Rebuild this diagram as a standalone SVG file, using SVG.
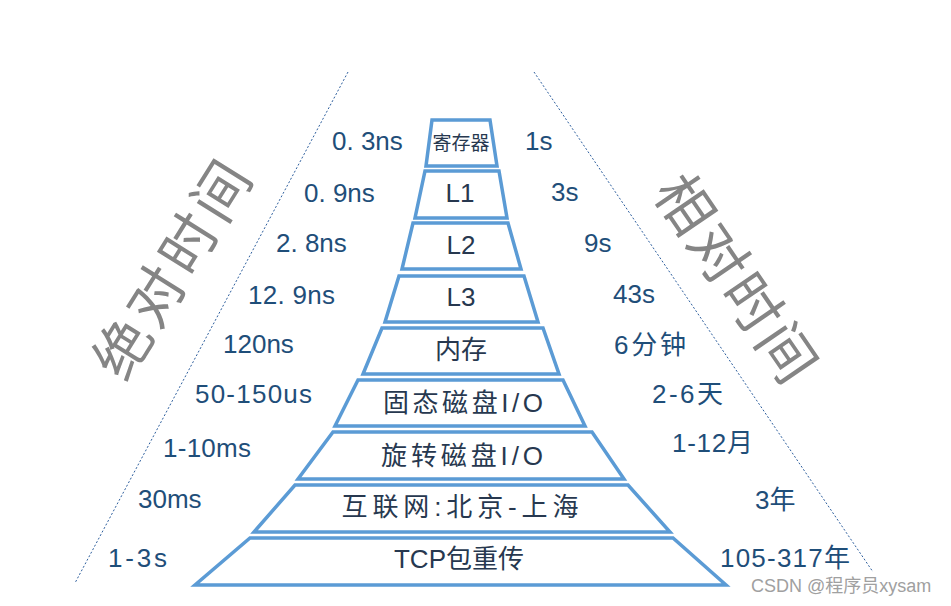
<svg xmlns="http://www.w3.org/2000/svg" width="951" height="606" viewBox="0 0 951 606">
<style>
.tier{fill:#ffffff;stroke:#5b9bd5;stroke-width:3.5;stroke-linejoin:miter}
.guide{stroke:#2e5f9e;stroke-width:1;stroke-dasharray:2 2;fill:none}
.val{font-family:"Liberation Sans","Noto Sans CJK SC",sans-serif;font-size:26px;fill:#1f4e79}
.lab{font-family:"Liberation Sans","Noto Sans CJK SC",sans-serif;font-size:26px;fill:#27384f;text-anchor:middle}
.big{font-family:"Noto Sans CJK SC",sans-serif;font-size:57px;font-weight:400;fill:#858585;text-anchor:middle}
.wm{font-family:"Liberation Sans","Noto Sans CJK SC",sans-serif;font-size:18px;fill:#a0a0a0}
</style>
<rect width="951" height="606" fill="#ffffff"/>
<g id="connectors">
<line class="guide" x1="348" y1="72" x2="75" y2="583"/>
<line class="guide" x1="534" y1="72" x2="873" y2="572"/>
</g>
<g id="title-abs"><text class="big" letter-spacing="5" transform="translate(174,268) rotate(-58)" y="20">绝对时间</text></g>
<g id="title-rel"><text class="big" letter-spacing="3" transform="translate(736,280) rotate(55.6)" y="20">相对时间</text></g>
<g id="tier1"><polygon class="tier" points="432,120 490,120 497,166 426,166"/><text class="lab" x="461" y="150" style="font-size:19px">寄存器</text></g>
<g id="tier2"><polygon class="tier" points="425,171 499,171 507,218 415,218"/><text class="lab" x="460" y="202">L1</text></g>
<g id="tier3"><polygon class="tier" points="413,223 508,223 521,269 402,269"/><text class="lab" x="461" y="254">L2</text></g>
<g id="tier4"><polygon class="tier" points="399,276 524,276 538,322 385,322"/><text class="lab" x="461" y="306">L3</text></g>
<g id="tier5"><polygon class="tier" points="382,328 543,328 559,374 363,374"/><text class="lab" x="461" y="359">内存</text></g>
<g id="tier6"><polygon class="tier" points="358,380 563,380 585,426 335,426"/><text class="lab" x="463" y="412" textLength="160" lengthAdjust="spacing">固态磁盘I/O</text></g>
<g id="tier7"><polygon class="tier" points="333,432 592,432 624,479 298,479"/><text class="lab" x="462" y="465" textLength="162" lengthAdjust="spacing">旋转磁盘I/O</text></g>
<g id="tier8"><polygon class="tier" points="295,485 628,485 670,532 254,532"/><text class="lab" x="460" y="516" textLength="237" lengthAdjust="spacing">互联网:北京-上海</text></g>
<g id="tier9"><polygon class="tier" points="250,538 673,538 726,585 195,585"/><text class="lab" x="459" y="568">TCP包重传</text></g>
<g id="abs-values">
<text class="val" x="332" y="150">0. 3ns</text>
<text class="val" x="304" y="202">0. 9ns</text>
<text class="val" x="276" y="252">2. 8ns</text>
<text class="val" x="248" y="304" textLength="87" lengthAdjust="spacing">12. 9ns</text>
<text class="val" x="223" y="353">120ns</text>
<text class="val" x="195" y="403" textLength="117" lengthAdjust="spacing">50-150us</text>
<text class="val" x="163" y="457" textLength="88" lengthAdjust="spacing">1-10ms</text>
<text class="val" x="138" y="508">30ms</text>
<text class="val" x="108" y="567" textLength="59" lengthAdjust="spacing">1-3s</text>
</g>
<g id="rel-values">
<text class="val" x="525" y="150">1s</text>
<text class="val" x="551" y="201">3s</text>
<text class="val" x="584" y="252">9s</text>
<text class="val" x="613" y="303">43s</text>
<text class="val" x="614" y="354" textLength="72" lengthAdjust="spacing">6分钟</text>
<text class="val" x="652" y="403" textLength="71" lengthAdjust="spacing">2-6天</text>
<text class="val" x="672" y="452" textLength="81" lengthAdjust="spacing">1-12月</text>
<text class="val" x="755" y="509">3年</text>
<text class="val" x="720" y="567" textLength="130" lengthAdjust="spacing">105-317年</text>
</g>
<g id="watermark"><text class="wm" x="751" y="592">CSDN @程序员xysam</text></g>
</svg>
